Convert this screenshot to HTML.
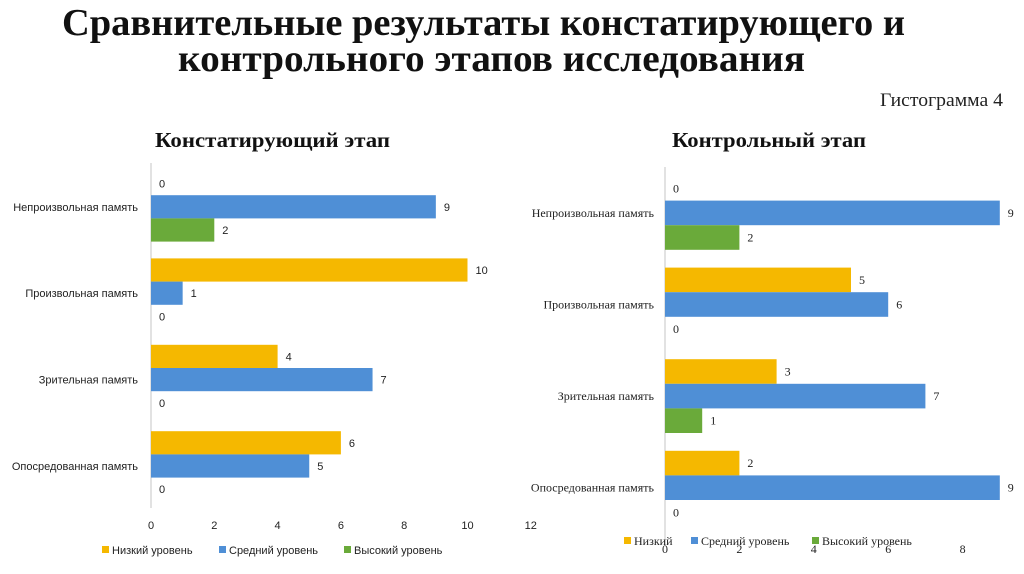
<!DOCTYPE html>
<html><head><meta charset="utf-8"><style>
html,body{margin:0;padding:0;background:#fff;width:1024px;height:574px;overflow:hidden}
svg{display:block}
</style></head><body>
<svg id="s" width="1024" height="574" xmlns="http://www.w3.org/2000/svg">
<text x="62" y="35" textLength="843" lengthAdjust="spacingAndGlyphs" font-family="Liberation Serif, serif" font-weight="bold" font-size="38" fill="#111">Сравнительные результаты констатирующего и</text>
<text x="178" y="71" textLength="627" lengthAdjust="spacingAndGlyphs" font-family="Liberation Serif, serif" font-weight="bold" font-size="38" fill="#111">контрольного этапов исследования</text>
<text x="880" y="106" textLength="123" lengthAdjust="spacingAndGlyphs" font-family="Liberation Serif, serif" font-size="19" fill="#222">Гистограмма 4</text>
<text x="155" y="147" textLength="235" lengthAdjust="spacingAndGlyphs" font-family="Liberation Serif, serif" font-weight="bold" font-size="21" fill="#111">Констатирующий этап</text>
<text x="672" y="147" textLength="194" lengthAdjust="spacingAndGlyphs" font-family="Liberation Serif, serif" font-weight="bold" font-size="21" fill="#111">Контрольный этап</text>
</svg>
<script>
const categories=["Непроизвольная память","Произвольная память","Зрительная память","Опосредованная память"];
const seriesNames=["Низкий уровень","Средний уровень","Высокий уровень"];
const leftLow=[0,10,4,6];
const leftMid=[9,1,7,5];
const leftHigh=[2,0,0,0];
const rightLow=[0,5,3,2];
const rightMid=[9,6,7,9];
const rightHigh=[2,0,1,0];
const leftTicks=[0,2,4,6,8,10,12];
const rightTicks=[0,2,4,6,8];
const colors=["#f5b800","#4f8fd6","#6aaa3a"];
const NS="http://www.w3.org/2000/svg";
const svg=document.getElementById('s');
function el(t,a,txt){const e=document.createElementNS(NS,t);for(const k in a)e.setAttribute(k,a[k]);if(txt!==undefined)e.textContent=txt;svg.appendChild(e);return e;}
function chart(cfg,series){
  const x=v=>cfg.x0+v*cfg.unit;
  const ax=el('line',{x1:cfg.x0,x2:cfg.x0,y1:cfg.axTop,y2:cfg.axBot,stroke:'#d9d9d9','stroke-width':1.5});
  
  
  categories.forEach((c,i)=>{
    const gy=cfg.y0+i*cfg.pitch;
    const lab=el('text',{x:cfg.labelX,y:gy+cfg.bh*1.5+4,'text-anchor':'end','font-family':cfg.font,'font-size':cfg.fs,fill:'#222'},c);
    
    
    series.forEach((s,j)=>{
      const v=s[i];const y=gy+j*cfg.bh;
      if(v>0){
        const r=el('rect',{x:x(0),y:y,width:x(v)-x(0),height:cfg.bh,fill:colors[j]});
        
        
      }
      const t=el('text',{x:x(v)+8,y:y+cfg.bh/2+4,'font-family':cfg.font,'font-size':cfg.fs,fill:'#222'},String(v));
      
      
    });
  });
  cfg.ticks.forEach(v=>{
    const t=el('text',{x:x(v),y:cfg.tickY,'text-anchor':'middle','font-family':cfg.font,'font-size':cfg.fs,fill:'#222'},String(v));
    
    
  });
  cfg.legend.forEach((lg,j)=>{
    const r=el('rect',{x:lg[0],y:cfg.legY-8,width:7,height:7,fill:colors[j]});
    
    
    const t=el('text',{x:lg[0]+10,y:cfg.legY,'font-family':cfg.font,'font-size':cfg.fs,fill:'#222'},lg[1]);
    
    
  });
}
chart({p:'left',x0:151,unit:31.65,y0:172,pitch:86.4,bh:23.2,axTop:163,axBot:508,labelX:138,tickY:529,font:'Liberation Sans, sans-serif',fs:11,legY:554,ticks:leftTicks,
  legend:[[102,'Низкий уровень'],[219,'Средний уровень'],[344,'Высокий уровень']]},[leftLow,leftMid,leftHigh]);
chart({p:'right',x0:665,unit:37.2,y0:176,pitch:91.6,bh:24.6,axTop:167,axBot:546,labelX:654,tickY:553,font:'Liberation Serif, serif',fs:12,legY:545,ticks:rightTicks,
  legend:[[624,'Низкий'],[691,'Средний уровень'],[812,'Высокий уровень']]},[rightLow,rightMid,rightHigh]);
</script>
</body></html>
